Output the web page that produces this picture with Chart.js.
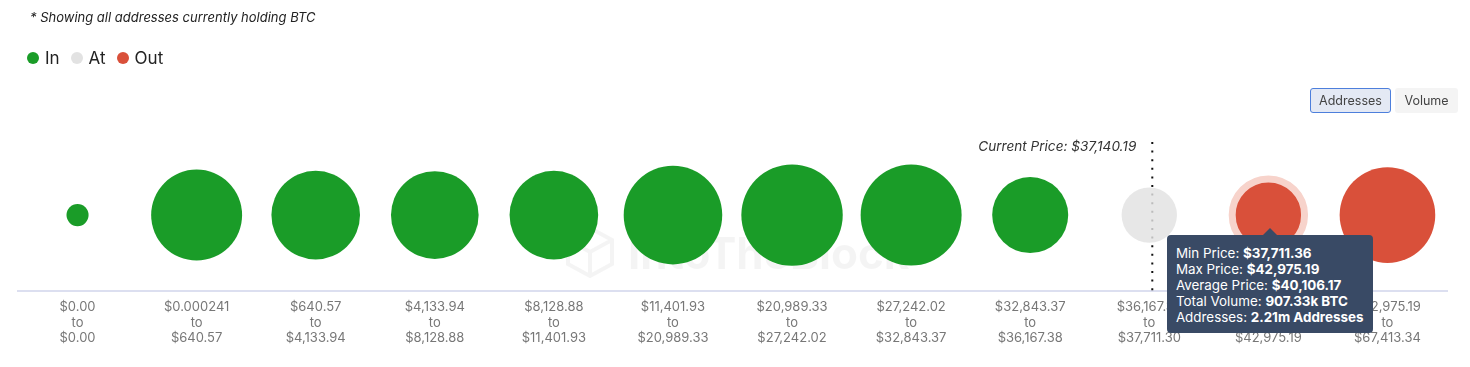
<!DOCTYPE html>
<html>
<head>
<meta charset="utf-8">
<script src="https://cdn.jsdelivr.net/npm/chart.js@4.4.0/dist/chart.umd.min.js"></script>
<style>
body { margin: 0; width: 1470px; height: 367px; overflow: hidden; background: #fff; font-family: Inter, "Noto Sans", sans-serif; }
#wrap { position: absolute; left: 0; top: 0; width: 1470px; height: 367px; }
.note { position: absolute; left: 30px; top: 9px; font-size: 13px; font-style: italic; color: #222; }
.legend { position: absolute; left: 27px; top: 48px; display: flex; align-items: center; font-size: 17px; color: #222; }
.legend .item { display: flex; align-items: center; margin-right: 11px; }
.legend .dot { width: 12px; height: 12px; border-radius: 50%; margin-right: 6px; }
.btns { position: absolute; left: 1310px; top: 88px; display: flex; }
.btn { height: 25px; box-sizing: border-box; font-size: 12.5px; color: #444; display: flex; align-items: center; justify-content: center; border-radius: 3px; }
.btn.on { width: 81px; border: 1px solid #4d7fdc; background: #e4e9f4; margin-right: 4px; }
.btn.off { width: 63px; background: #f4f4f4; }
#tip { position: absolute; background: #394a65; color: #fff; font-size: 13.4px; line-height: 16px; padding: 10px 10px 8px 9px; border-radius: 4px; white-space: nowrap; }
#tip b { font-weight: 700; }
#tip::before { content: ""; position: absolute; left: 50%; top: -7px; margin-left: -7px; border-left: 7px solid transparent; border-right: 7px solid transparent; border-bottom: 7px solid #394a65; }
</style>
</head>
<body>
<div id="wrap"><canvas id="myChart" width="1470" height="367"></canvas></div>
<div class="note">* Showing all addresses currently holding BTC</div>
<div class="legend" id="legend"></div>
<div class="btns"><div class="btn on">Addresses</div><div class="btn off">Volume</div></div>
<div id="tip"></div>
<script>
// price bins (from / to)
var binFrom = ["$0.00", "$0.000241", "$640.57", "$4,133.94", "$8,128.88", "$11,401.93", "$20,989.33", "$27,242.02", "$32,843.37", "$36,167.38", "$37,711.36", "$42,975.19"];
var binTo = ["$0.00", "$640.57", "$4,133.94", "$8,128.88", "$11,401.93", "$20,989.33", "$27,242.02", "$32,843.37", "$36,167.38", "$37,711.30", "$42,975.19", "$67,413.34"];
// addresses per bin, millions
var addresses = [0.23, 3.91, 3.71, 3.63, 3.71, 4.59, 4.86, 4.82, 2.73, 1.45, 2.21, 4.32];
var binStatus = ["In", "In", "In", "In", "In", "In", "In", "In", "In", "At", "Out", "Out"];
var avgPrice = { 10: "$40,106.17" };
var totalVolume = { 10: "907.33k BTC" };

var currentPrice = "$37,140.19";
var currentBin = 9;
var hoverBin = 10;

var colors = { In: "#1a9c28", At: "#e2e2e2", Out: "#d9503a" };
var fills = { In: "#1a9c28", At: "rgba(226,226,226,0.82)", Out: "#d9503a" };

// legend
var legend = document.getElementById("legend");
["In", "At", "Out"].forEach(function (s) {
    legend.innerHTML += '<div class="item"><span class="dot" style="background:' + colors[s] + '"></span>' + s + '</div>';
});

var radiusFor = v => 23 * Math.sqrt(v);

const extras = {
    id: "extras",
    beforeDatasetsDraw(chart) {
        const ctx = chart.ctx;
        const area = chart.chartArea;
        const x = chart.scales.x.getPixelForValue(currentBin) + 3;

        // watermark
        ctx.save();
        ctx.strokeStyle = "rgba(0,0,0,0.045)";
        ctx.lineWidth = 4;
        const cx = 590, cy = 252;
        ctx.beginPath();
        ctx.moveTo(cx - 22, cy - 12); ctx.lineTo(cx, cy - 24); ctx.lineTo(cx + 22, cy - 12);
        ctx.lineTo(cx + 22, cy + 12); ctx.lineTo(cx, cy + 24); ctx.lineTo(cx - 22, cy + 12); ctx.closePath();
        ctx.moveTo(cx - 22, cy - 12); ctx.lineTo(cx, cy); ctx.lineTo(cx + 22, cy - 12);
        ctx.moveTo(cx, cy); ctx.lineTo(cx, cy + 24);
        ctx.stroke();
        ctx.fillStyle = "rgba(0,0,0,0.045)";
        ctx.font = "bold 44px Inter";
        ctx.textBaseline = "middle";
        ctx.fillText("IntoTheBlock", 628, 256);
        ctx.restore();

        // current price line
        ctx.save();
        ctx.strokeStyle = "#111";
        ctx.lineWidth = 2;
        ctx.setLineDash([2, 6.6]);
        ctx.beginPath();
        ctx.moveTo(x, area.top + 3);
        ctx.lineTo(x, area.bottom);
        ctx.stroke();
        ctx.setLineDash([]);
        ctx.fillStyle = "#333";
        ctx.font = "italic 13.6px Inter";
        ctx.textAlign = "right";
        ctx.textBaseline = "middle";
        ctx.fillText("Current Price: " + currentPrice, x - 16, area.top + 8);
        ctx.restore();
    }
};

const data = {
    labels: binFrom,
    datasets: [{
        data: addresses.map((v, i) => ({ x: i, y: 0.5, r: radiusFor(v) })),
        backgroundColor: binStatus.map(s => fills[s]),
        hoverBackgroundColor: binStatus.map(s => fills[s]),
        borderWidth: 0,
        hoverBorderWidth: 7,
        hoverBorderColor: "#f7d3cb",
        hoverRadius: 2
    }]
};

const config = {
    type: "bubble",
    data: data,
    options: {
        responsive: false,
        animation: false,
        events: [],
        layout: { autoPadding: false, padding: { left: 18, right: 23, top: 139, bottom: 13 } },
        plugins: { legend: { display: false }, tooltip: { enabled: false } },
        scales: {
            x: {
                type: "category",
                offset: true,
                grid: { display: false, drawTicks: false },
                border: { color: "#dcdff0", width: 2 },
                ticks: {
                    autoSkip: false,
                    maxRotation: 0,
                    padding: 8,
                    color: "#777",
                    font: { family: "Inter", size: 13, lineHeight: 1.2 },
                    callback: (v, i) => [binFrom[i], "to", binTo[i]]
                }
            },
            y: { display: false, min: 0, max: 1 }
        }
    },
    plugins: [extras]
};
const myChart = new Chart(document.getElementById("myChart"), config);

myChart.setActiveElements([{ datasetIndex: 0, index: hoverBin }]);
myChart.update();

// tooltip
var el = myChart.getDatasetMeta(0).data[hoverBin];
var tip = document.getElementById("tip");
tip.innerHTML =
    "Min Price: <b>" + binFrom[hoverBin] + "</b><br>" +
    "Max Price: <b>" + binTo[hoverBin] + "</b><br>" +
    "Average Price: <b>" + avgPrice[hoverBin] + "</b><br>" +
    "Total Volume: <b>" + totalVolume[hoverBin] + "</b><br>" +
    "Addresses: <b>" + addresses[hoverBin] + "m Addresses</b>";
tip.style.left = (el.x - tip.offsetWidth / 2 + 2) + "px";
tip.style.top = (el.y + 20) + "px";
</script>
</body>
</html>
